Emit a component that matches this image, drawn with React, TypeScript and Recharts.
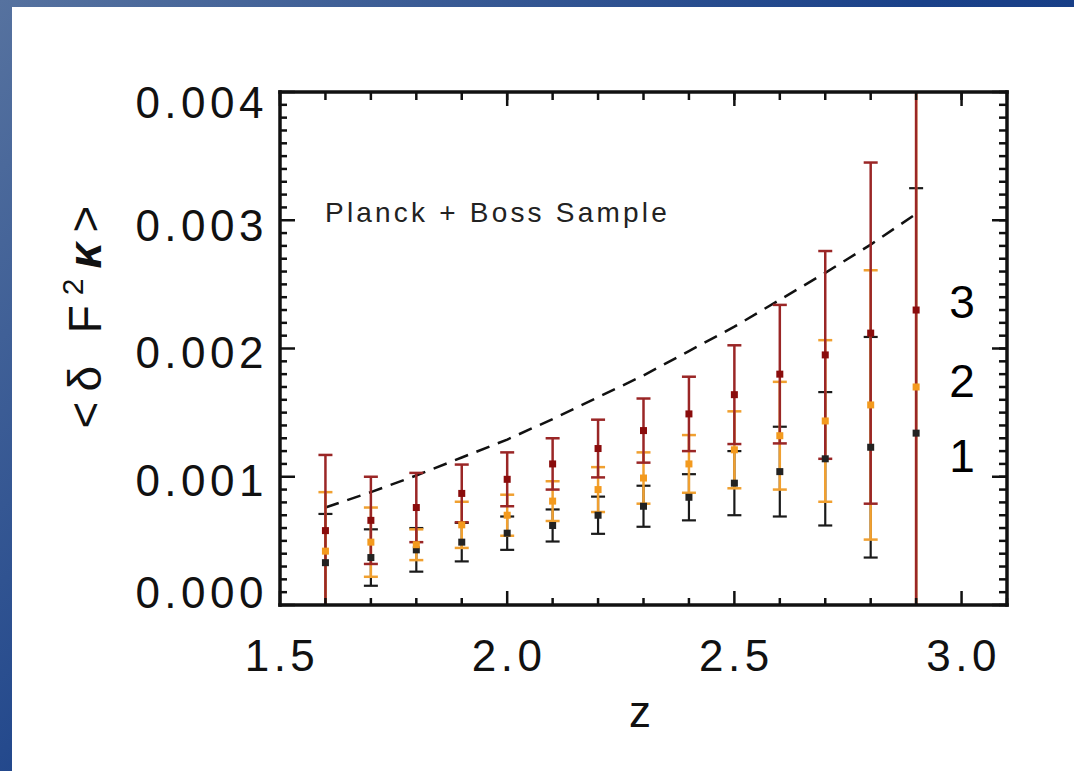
import { ComposedChart, Scatter, Line, XAxis, YAxis, ErrorBar } from "recharts";

// redshift bins
const redshift = [1.6, 1.7, 1.8, 1.9, 2.0, 2.1, 2.2, 2.3, 2.4, 2.5, 2.6, 2.7, 2.8, 2.9];

// sample 1 (black)
const sample1 = [0.00033, 0.00037, 0.00043, 0.00049, 0.00056, 0.00062, 0.0007, 0.00077, 0.00084, 0.00095, 0.00104, 0.00114, 0.00123, 0.00134];
const sample1Err = [0.00038, 0.00022, 0.00017, 0.00015, 0.00013, 0.000125, 0.000145, 0.00016, 0.00018, 0.00025, 0.00035, 0.00052, 0.00086, 0.00191];

// sample 2 (orange)
const sample2 = [0.00042, 0.00049, 0.00047, 0.000625, 0.0007, 0.00081, 0.0009, 0.00099, 0.0011, 0.00121, 0.00132, 0.001435, 0.00156, 0.0017];
const sample2Err = [0.00046, 0.00027, 0.00012, 0.00018, 0.00016, 0.000155, 0.000175, 0.0002, 0.000225, 0.0003, 0.00042, 0.00063, 0.00105, 0.0025];

// sample 3 (dark red)
const sample3 = [0.00058, 0.00066, 0.00076, 0.00087, 0.00098, 0.0011, 0.00122, 0.00136, 0.00149, 0.00164, 0.0018, 0.00195, 0.00212, 0.0023];
const sample3Err = [0.00059, 0.00034, 0.00027, 0.000225, 0.00021, 0.0002, 0.000225, 0.00025, 0.00029, 0.000385, 0.00054, 0.00081, 0.00133, 0.0029];

// dashed model curve
const modelCurve = [0.00076, 0.00088, 0.00101, 0.00115, 0.00129, 0.00145, 0.00162, 0.00179, 0.00198, 0.00217, 0.00238, 0.00259, 0.00281, 0.00305];

const xMajorTicks = [1.5, 2.0, 2.5, 3.0];
const xMinorTicks = [1.5, 1.6, 1.7, 1.8, 1.9, 2.0, 2.1, 2.2, 2.3, 2.4, 2.5, 2.6, 2.7, 2.8, 2.9, 3.0, 3.1];
const yMajorTicks = [0, 0.001, 0.002, 0.003, 0.004];
const yMinorTicks = [
  0, 0.0001, 0.0002, 0.0003, 0.0004, 0.0005, 0.0006, 0.0007, 0.0008, 0.0009,
  0.001, 0.0011, 0.0012, 0.0013, 0.0014, 0.0015, 0.0016, 0.0017, 0.0018, 0.0019,
  0.002, 0.0021, 0.0022, 0.0023, 0.0024, 0.0025, 0.0026, 0.0027, 0.0028, 0.0029,
  0.003, 0.0031, 0.0032, 0.0033, 0.0034, 0.0035, 0.0036, 0.0037, 0.0038, 0.0039, 0.004,
];

const rows = (vals: number[], errs: number[]) =>
  redshift.map((z, i) => ({ z, v: vals[i], err: errs[i] }));

const modelRows = redshift.map((z, i) => ({ z, model: modelCurve[i] }));

const square = (color: string) => (p: any) =>
  <rect x={p.cx - 3.5} y={p.cy - 3.5} width={7} height={7} fill={color} />;

const X_DOMAIN: [number, number] = [1.5, 3.1];
const Y_DOMAIN: [number, number] = [0, 0.004];
const INK = "#111";
const tickStroke = { stroke: INK, strokeWidth: 2.5 };
const frame = { stroke: INK, strokeWidth: 3.5, strokeLinecap: "square" as const };
const font = "'Liberation Sans', Arial, sans-serif";
const noLabel = () => <g />;

const majorIndex = (list: number[], v: number) => list.findIndex((m) => Math.abs(m - v) < 1e-9);

// left axis: inward ticks + labels; IDL keeps the end labels inside the frame
const Y_MARGIN = 12;
const yLabelShift = [-13, 4, 4, 5, 10];
const YTick = (p: any) => {
  const v = Number(p.payload.value);
  const mi = majorIndex(yMajorTicks, v);
  const edge = p.x + Y_MARGIN;
  return (
    <g>
      <line x1={edge} x2={edge + (mi >= 0 ? 15 : 7)} y1={p.y} y2={p.y} {...tickStroke} />
      {mi >= 0 && (
        <text x={p.x} y={p.y + yLabelShift[mi]} dy="0.355em" textAnchor="end" fontSize={44} fontFamily={font} fill={INK} letterSpacing={4.5}>
          {v.toFixed(3)}
        </text>
      )}
    </g>
  );
};

// bottom axis: inward ticks + labels
const X_MARGIN = 35;
const XTick = (p: any) => {
  const v = Number(p.payload.value);
  const mi = majorIndex(xMajorTicks, v);
  const edge = p.y - X_MARGIN;
  return (
    <g>
      <line x1={p.x} x2={p.x} y1={edge} y2={edge - (mi >= 0 ? 14 : 7)} {...tickStroke} />
      {mi >= 0 && (
        <text x={p.x + 2} y={p.y} dy="0.71em" textAnchor="middle" fontSize={44} fontFamily={font} fill={INK} letterSpacing={4.5}>
          {v.toFixed(1)}
        </text>
      )}
    </g>
  );
};

export default function App() {
  return (
    <div
      style={{
        position: "absolute",
        left: 0,
        top: 0,
        width: 1074,
        height: 771,
        background: "linear-gradient(135deg, #56729f 0%, #1a4189 50%, #10357f 100%)",
        overflow: "hidden",
      }}
    >
      <style>{`.recharts-errorBars, .recharts-errorBar { clip-path: url(#plotClip); }`}</style>
      <svg width={0} height={0} style={{ position: "absolute" }}>
        <defs>
          <clipPath id="plotClip" clipPathUnits="userSpaceOnUse">
            <rect x={280} y={92} width={727} height={513} />
          </clipPath>
        </defs>
      </svg>
      <div style={{ position: "absolute", left: 12, top: 7, right: 0, bottom: 0, background: "#fff" }} />
      <div style={{ position: "absolute", left: 0, top: 0 }}>
        <ComposedChart
          width={1074}
          height={771}
          data={modelRows}
          margin={{ top: 92, right: 67, bottom: 66, left: 180 }}
        >
          {/* top and right: inward tick marks (mirrored, take no space) */}
          <XAxis xAxisId="tMin" type="number" dataKey="z" domain={X_DOMAIN} ticks={xMinorTicks} interval={0} orientation="top" height={1} mirror tickSize={7} tick={noLabel} axisLine={false} tickLine={tickStroke} allowDataOverflow />
          <XAxis xAxisId="tMaj" type="number" dataKey="z" domain={X_DOMAIN} ticks={xMajorTicks} interval={0} orientation="top" height={1} mirror tickSize={14} tick={noLabel} axisLine={frame} tickLine={tickStroke} allowDataOverflow />
          <YAxis yAxisId="rMin" type="number" domain={Y_DOMAIN} ticks={yMinorTicks} interval={0} orientation="right" width={1} mirror tickSize={7} tick={noLabel} axisLine={false} tickLine={tickStroke} allowDataOverflow />
          <YAxis yAxisId="rMaj" type="number" domain={Y_DOMAIN} ticks={yMajorTicks} interval={0} orientation="right" width={1} mirror tickSize={15} tick={noLabel} axisLine={frame} tickLine={tickStroke} allowDataOverflow />

          {/* labelled axes */}
          <XAxis
            xAxisId="x"
            type="number"
            dataKey="z"
            domain={X_DOMAIN}
            ticks={xMinorTicks}
            interval={0}
            orientation="bottom"
            height={100}
            tickLine={false}
            tickSize={0}
            tickMargin={X_MARGIN}
            axisLine={frame}
            tick={XTick}
            allowDataOverflow
          />
          <YAxis
            yAxisId="y"
            type="number"
            domain={Y_DOMAIN}
            ticks={yMinorTicks}
            interval={0}
            orientation="left"
            width={100}
            tickLine={false}
            tickSize={0}
            tickMargin={Y_MARGIN}
            axisLine={frame}
            tick={YTick}
            allowDataOverflow
          />

          <Line
            xAxisId="x"
            yAxisId="y"
            dataKey="model"
            stroke={INK}
            strokeWidth={2.5}
            strokeDasharray="14 9"
            dot={false}
            isAnimationActive={false}
          />
          <Scatter xAxisId="x" yAxisId="y" data={rows(sample1, sample1Err)} dataKey="v" shape={square("#222")} isAnimationActive={false}>
            <ErrorBar dataKey="err" direction="y" width={7} stroke="#1a1a1a" strokeWidth={2.2} />
          </Scatter>
          <Scatter xAxisId="x" yAxisId="y" data={rows(sample2, sample2Err)} dataKey="v" shape={square("#f39a1e")} isAnimationActive={false}>
            <ErrorBar dataKey="err" direction="y" width={7} stroke="#f0a030" strokeWidth={2.5} />
          </Scatter>
          <Scatter xAxisId="x" yAxisId="y" data={rows(sample3, sample3Err)} dataKey="v" shape={square("#8a0c0c")} isAnimationActive={false}>
            <ErrorBar dataKey="err" direction="y" width={7} stroke="#9a2626" strokeWidth={2.5} />
          </Scatter>
        </ComposedChart>
      </div>

      <svg width={1074} height={771} style={{ position: "absolute", left: 0, top: 0, pointerEvents: "none" }}>
        <text x={325} y={222} fontSize={28} fontFamily={font} fill="#222" letterSpacing={3.2}>
          Planck + Boss Sample
        </text>
        <text x={962} y={318} fontSize={46} fontFamily={font} fill="#000" textAnchor="middle">3</text>
        <text x={962} y={397} fontSize={46} fontFamily={font} fill="#000" textAnchor="middle">2</text>
        <text x={962} y={472} fontSize={46} fontFamily={font} fill="#000" textAnchor="middle">1</text>
        <text x={640} y={727} fontSize={44} fontFamily={font} fill={INK} textAnchor="middle">z</text>
        <text
          x={0}
          y={0}
          fontSize={46}
          fontFamily={font}
          fill={INK}
          textAnchor="middle"
          letterSpacing={10}
          transform="translate(101 312) rotate(-90)"
        >
          {"<δ F"}
          <tspan fontSize={30} dy={-18}>2</tspan>
          <tspan fontStyle="italic" fontWeight="bold" dy={18}>κ</tspan>
          {">"}
        </text>
      </svg>
    </div>
  );
}
